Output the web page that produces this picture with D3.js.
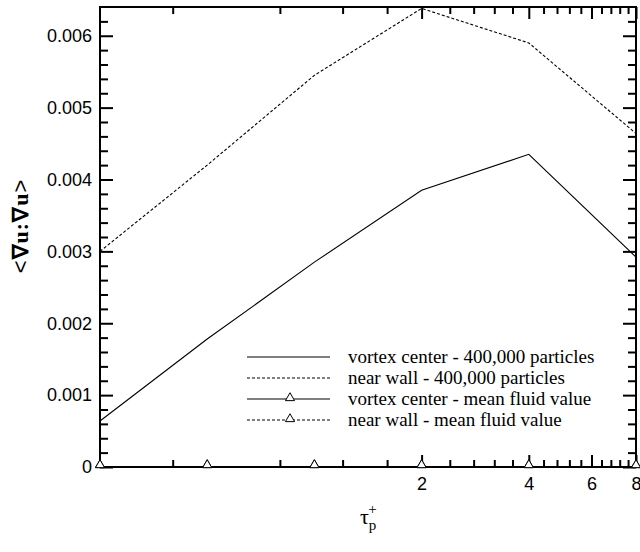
<!DOCTYPE html>
<html>
<head>
<meta charset="utf-8">
<script src="https://cdn.jsdelivr.net/npm/d3@7"></script>
<style>
  body { margin: 0; background: #fff; }
  svg { display: block; }
</style>
</head>
<body>
<div id="chart"></div>
<script>
// particle relaxation time (log2 axis)
var tauP = [0.25, 0.5, 1, 2, 4, 8];
var vortexCenter = [0.00064, 0.00178, 0.00285, 0.00385, 0.00435, 0.00292];
var nearWall = [0.00300, 0.00420, 0.00545, 0.00638, 0.00590, 0.00464];
var vortexCenterMean = [0, 0, 0, 0, 0, 0];
var nearWallMean = [0, 0, 0, 0, 0, 0];

var xMajor = [2, 4, 6, 8];
var xMinor = [0.4, 0.8, 1.2, 1.6, 2.4, 2.8, 3.2, 3.6, 4.4, 4.8, 5.2, 5.6, 6.4, 6.8, 7.2, 7.6];
var yMajor = [0, 0.001, 0.002, 0.003, 0.004, 0.005, 0.006];
var yMinor = [0.0002, 0.0004, 0.0006, 0.0008, 0.0012, 0.0014, 0.0016, 0.0018,
  0.0022, 0.0024, 0.0026, 0.0028, 0.0032, 0.0034, 0.0036, 0.0038,
  0.0042, 0.0044, 0.0046, 0.0048, 0.0052, 0.0054, 0.0056, 0.0058, 0.0062];

var legendNames = [
  "vortex center - 400,000 particles",
  "near wall - 400,000 particles",
  "vortex center - mean fluid value",
  "near wall - mean fluid value"
];

var width = 640, height = 552;
var mLeft = 100, mRight = 636, mTop = 7, mBottom = 467;

var x = d3.scaleLog().base(2).domain([0.25, 8]).range([mLeft, mRight]);
var y = d3.scaleLinear().domain([0, 0.0064]).range([mBottom, mTop]);

var svg = d3.select("#chart").append("svg")
  .attr("width", width)
  .attr("height", height);

//lines
var line = function (vals) {
  return d3.line()
    .x(function (d, i) { return x(tauP[i]); })
    .y(function (d) { return y(d); })(vals);
};

svg.append("path").attr("d", line(vortexCenter))
  .attr("fill", "none").attr("stroke", "#000").attr("stroke-width", 1.1);
svg.append("path").attr("d", line(nearWall))
  .attr("fill", "none").attr("stroke", "#000").attr("stroke-width", 1.1)
  .attr("stroke-dasharray", "3,2");
svg.append("path").attr("d", line(vortexCenterMean))
  .attr("fill", "none").attr("stroke", "#000").attr("stroke-width", 1.1);
svg.append("path").attr("d", line(nearWallMean))
  .attr("fill", "none").attr("stroke", "#000").attr("stroke-width", 1.1)
  .attr("stroke-dasharray", "3,2");

//axes with inward ticks
function styleAxis(g) {
  g.select(".domain").remove();
  g.selectAll("line").attr("stroke", "#000").attr("stroke-width", 2);
  g.selectAll("text").attr("fill", "#000")
    .style("font-family", "'Liberation Sans', Arial, sans-serif")
    .style("font-size", "18px");
}

svg.append("g").attr("transform", "translate(0," + mBottom + ")")
  .call(d3.axisBottom(x).tickValues(xMajor).tickSize(-12).tickPadding(10).tickFormat(d3.format("d")))
  .call(styleAxis);
svg.append("g").attr("transform", "translate(0," + mBottom + ")")
  .call(d3.axisBottom(x).tickValues(xMinor).tickSize(-7).tickFormat(""))
  .call(styleAxis);
svg.append("g").attr("transform", "translate(0," + mTop + ")")
  .call(d3.axisTop(x).tickValues(xMajor).tickSize(-12).tickFormat(""))
  .call(styleAxis);
svg.append("g").attr("transform", "translate(0," + mTop + ")")
  .call(d3.axisTop(x).tickValues(xMinor).tickSize(-7).tickFormat(""))
  .call(styleAxis);

svg.append("g").attr("transform", "translate(" + mLeft + ",0)")
  .call(d3.axisLeft(y).tickValues(yMajor).tickSize(-13).tickPadding(8)
    .tickFormat(function (d) { return d === 0 ? "0" : d3.format(".3f")(d); }))
  .call(styleAxis);
svg.append("g").attr("transform", "translate(" + mLeft + ",0)")
  .call(d3.axisLeft(y).tickValues(yMinor).tickSize(-8).tickFormat(""))
  .call(styleAxis);
svg.append("g").attr("transform", "translate(" + mRight + ",0)")
  .call(d3.axisRight(y).tickValues(yMajor).tickSize(-13).tickFormat(""))
  .call(styleAxis);
svg.append("g").attr("transform", "translate(" + mRight + ",0)")
  .call(d3.axisRight(y).tickValues(yMinor).tickSize(-8).tickFormat(""))
  .call(styleAxis);

//frame
svg.append("rect")
  .attr("x", mLeft).attr("y", mTop)
  .attr("width", mRight - mLeft).attr("height", mBottom - mTop)
  .attr("fill", "none").attr("stroke", "#000").attr("stroke-width", 2);

//triangle markers for the mean fluid values
var tri = d3.symbol().type(d3.symbolTriangle).size(36);
[vortexCenterMean, nearWallMean].forEach(function (vals) {
  svg.selectAll(null).data(vals).enter().append("path")
    .attr("d", tri)
    .attr("transform", function (d, i) { return "translate(" + x(tauP[i]) + "," + (y(d) - 2) + ")"; })
    .attr("fill", "#fff").attr("stroke", "#000").attr("stroke-width", 1);
});

//legend
var legend = svg.append("g");
var legY = [357, 378, 399, 420];
legendNames.forEach(function (name, i) {
  var g = legend.append("g").attr("transform", "translate(0," + legY[i] + ")");
  g.append("line").attr("x1", 247).attr("x2", 330)
    .attr("stroke", "#000").attr("stroke-width", 1.1)
    .attr("stroke-dasharray", i % 2 === 1 ? "3,2" : null);
  if (i >= 2) {
    g.append("path").attr("d", tri).attr("transform", "translate(290,-1)")
      .attr("fill", "#fff").attr("stroke", "#000").attr("stroke-width", 1);
  }
  g.append("text").attr("x", 348).attr("y", 6)
    .style("font-family", "'Liberation Serif', 'Times New Roman', serif")
    .style("font-size", "19px")
    .text(name);
});

//y label
var yl = svg.append("text")
  .attr("transform", "translate(28,226) rotate(-90)")
  .attr("text-anchor", "middle")
  .style("font-family", "'Liberation Serif', 'Times New Roman', serif")
  .style("font-size", "22px")
  .style("font-weight", "bold")
  .style("letter-spacing", "1px");
yl.append("tspan").style("font-family", "'Liberation Sans', Arial, sans-serif").style("font-weight", "normal").text("<");
yl.append("tspan").text("\u2207u:\u2207u");
yl.append("tspan").style("font-family", "'Liberation Sans', Arial, sans-serif").style("font-weight", "normal").text(">");

//x label
var xl = svg.append("text")
  .attr("x", 360).attr("y", 524)
  .style("font-family", "'Liberation Serif', 'Times New Roman', serif")
  .style("font-size", "22px");
xl.append("tspan").text("\u03c4");
xl.append("tspan").attr("dy", 6).style("font-size", "15px").text("p");
xl.append("tspan").attr("dx", -8).attr("dy", -16).style("font-size", "15px").text("+");
</script>
</body>
</html>
